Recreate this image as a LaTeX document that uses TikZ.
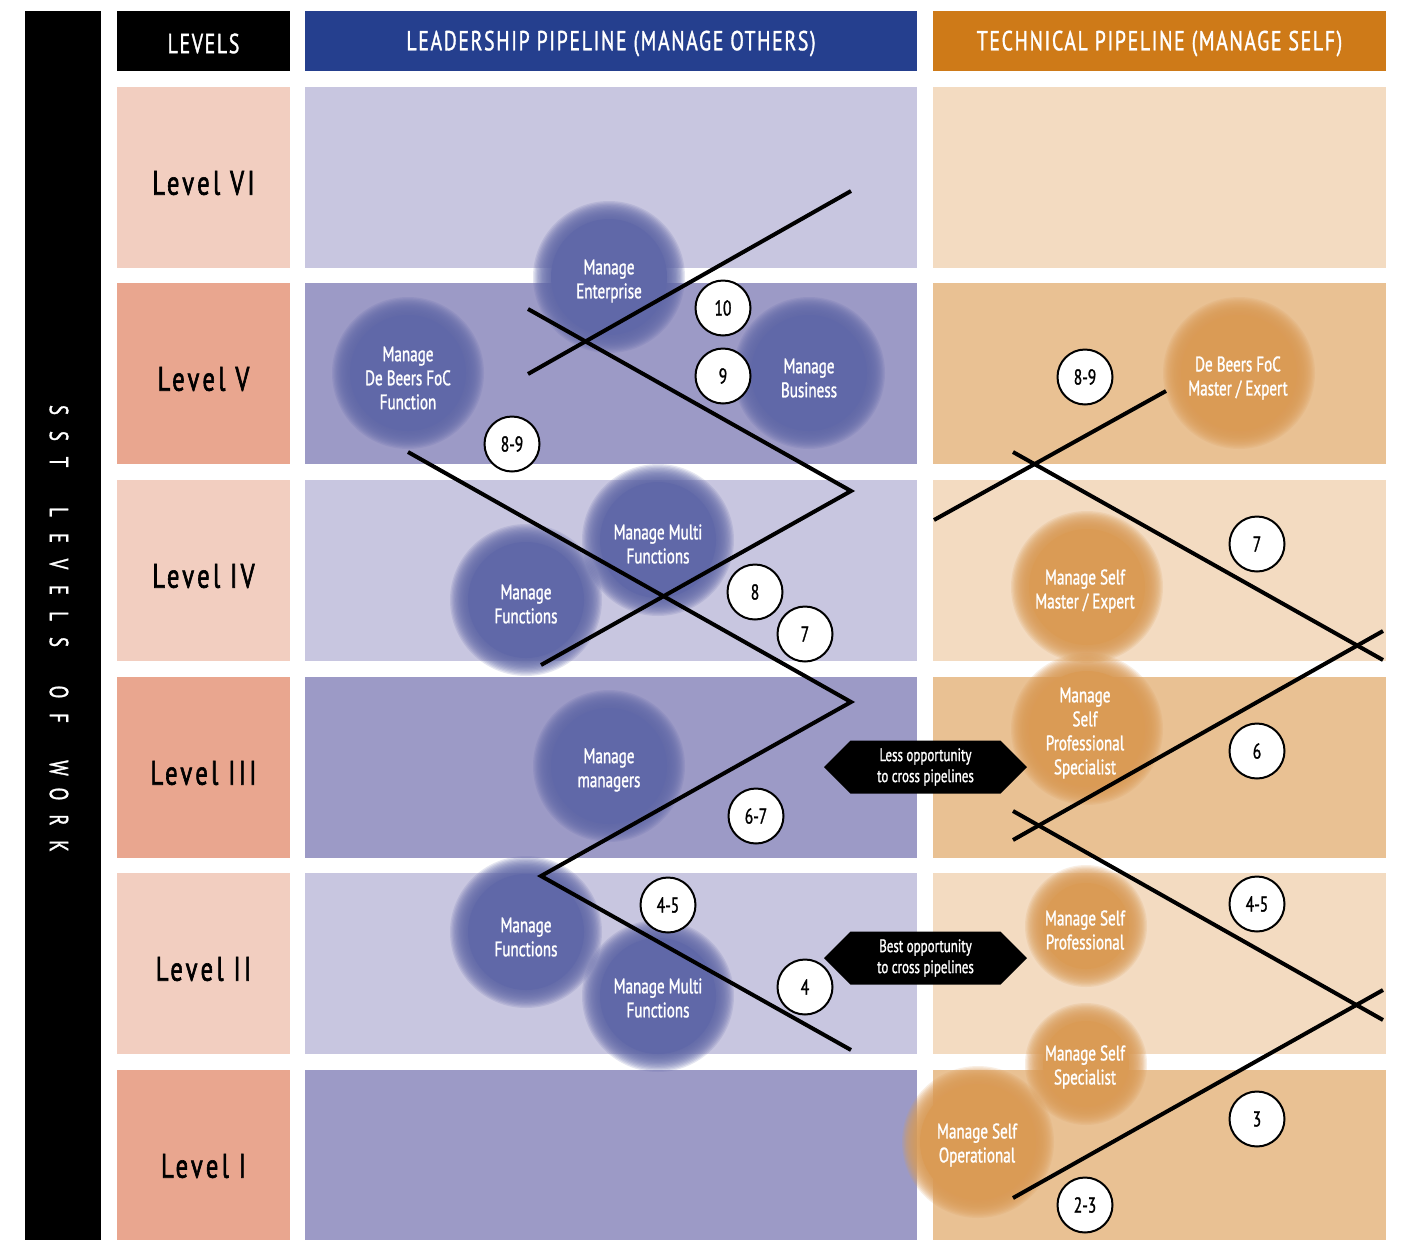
\documentclass[tikz,border=0pt]{standalone}
\usepackage{fontspec}
\setmainfont{PT Sans}[FakeStretch=0.72,FakeBold=1.2]
\usetikzlibrary{shapes.symbols}
\definecolor{hdrblue}{HTML}{253F8E}
\definecolor{hdrorange}{HTML}{CE7A18}
\definecolor{lvlA}{HTML}{F2CEC0}
\definecolor{lvlB}{HTML}{E9A68F}
\definecolor{leadA}{HTML}{C8C6E0}
\definecolor{leadB}{HTML}{9C9AC6}
\definecolor{techA}{HTML}{F3DBC1}
\definecolor{techB}{HTML}{E9C193}
\definecolor{bluec}{HTML}{6068A8}
\definecolor{orangec}{HTML}{DA9B55}
\newcommand\fzc[4]{%
  \foreach \k in {0,1,...,13}{%
    \pgfmathsetmacro\rr{#3+1-1.3*\k}%
    \fill[#4,fill opacity=0.16] (#1,#2) circle[radius=\rr];}%
  \pgfmathsetmacro\rr{#3-17}%
  \fill[#4] (#1,#2) circle[radius=\rr];}
\newcommand\lb[1]{\makebox[26pt]{#1}}
\newcommand\lsp{\hspace*{24pt}}
\begin{document}
\begin{tikzpicture}[x=1pt,y=-1pt,
  box/.style={rectangle,inner sep=0pt,outer sep=0pt},
  hdrtext/.style={text=white,inner sep=0pt,font=\fontsize{27.5}{30}\selectfont\addfontfeature{LetterSpace=6}},
  lvltext/.style={inner sep=0pt,font=\fontsize{34}{36}\selectfont\addfontfeature{LetterSpace=10,FakeBold=1.8}},
  ctext/.style={text=white,align=center,font=\fontsize{21}{24}\selectfont},
  num/.style={circle,draw=black,line width=2pt,fill=white,minimum size=55pt,inner sep=0pt,font=\fontsize{21.5}{22}\selectfont},
  hexa/.style={signal,signal to=west and east,signal pointer angle=90,fill=black,text=white,minimum width=203pt,minimum height=53pt,inner sep=2pt,align=center,font=\fontsize{18}{21}\selectfont},
  zig/.style={line width=4pt}]
\useasboundingbox (0,0) rectangle (1401,1240);
\fill[white] (0,0) rectangle (1401,1240);
% left bar
\node[box,fill=black,minimum width=76pt,minimum height=1229pt] (bar) at (63,625.5) {};
\node[text=white,rotate=-90,font=\fontsize{26}{28}\selectfont] (bartext) at (59,628)
  {\lb{S}\lb{S}\lb{T}\lsp\lb{L}\lb{E}\lb{V}\lb{E}\lb{L}\lb{S}\lsp\lb{O}\lb{F}\lsp\lb{W}\lb{O}\lb{R}\lb{K}};
% headers
\node[box,fill=black,minimum width=173pt,minimum height=60pt] (hlevels) at (203.5,41) {};
\node[box,fill=hdrblue,minimum width=612pt,minimum height=60pt] (hlead) at (611,41) {};
\node[box,fill=hdrorange,minimum width=453pt,minimum height=60pt] (htech) at (1159.5,41) {};
\node[hdrtext] (tlevels) at (203.5,43.5) {LEVELS};
\node[hdrtext] (tlead) at (611,43.5) {LEADERSHIP PIPELINE (MANAGE OTHERS)};
\node[hdrtext] (ttech) at (1159.5,43.5) {TECHNICAL PIPELINE (MANAGE SELF)};
% rows
\foreach \yc/\hh/\lab/\ca/\cb/\cc/\nm in {
  177.5/181/Level VI/lvlA/leadA/techA/six,
  373.5/181/Level V/lvlB/leadB/techB/five,
  570.5/181/Level IV/lvlA/leadA/techA/four,
  767.5/181/Level III/lvlB/leadB/techB/three,
  963.5/181/Level II/lvlA/leadA/techA/two,
  1155/170/Level I/lvlB/leadB/techB/one}{
  \node[box,fill=\ca,minimum width=173pt,minimum height=\hh pt] (lv\nm) at (203.5,\yc) {};
  \node[box,fill=\cb,minimum width=612pt,minimum height=\hh pt] (ld\nm) at (611,\yc) {};
  \node[box,fill=\cc,minimum width=453pt,minimum height=\hh pt] (tc\nm) at (1159.5,\yc) {};
}
\node[lvltext] (lt6) at (203.5,183) {Level VI};
\node[lvltext] (lt5) at (203.5,379) {Level V};
\node[lvltext] (lt4) at (203.5,576) {Level IV};
\node[lvltext] (lt3) at (203.5,773) {Level III};
\node[lvltext] (lt2) at (203.5,969) {Level II};
\node[lvltext] (lt1) at (203.5,1166) {Level I};
% fuzzy circles
\fzc{609}{277}{75}{bluec}
\fzc{408}{373}{75}{bluec}
\fzc{809}{373}{75}{bluec}
\fzc{658}{540}{75}{bluec}
\fzc{526}{600}{75}{bluec}
\fzc{609}{766}{75}{bluec}
\fzc{526}{932}{75}{bluec}
\fzc{658}{996}{75}{bluec}
\fzc{1239}{373}{75}{orangec}
\fzc{1087}{587}{75}{orangec}
\fzc{1087}{729}{75}{orangec}
\fzc{1086}{926}{60}{orangec}
\fzc{1086}{1064}{60}{orangec}
\fzc{978}{1142}{75}{orangec}
% circle texts
\node[ctext] (enterprise) at (609,281) {Manage\\Enterprise};
\node[ctext] (debeers) at (408,378) {Manage\\De Beers FoC\\Function};
\node[ctext] (business) at (809,378) {Manage\\Business};
\node[ctext] (multi) at (658,544) {Manage Multi\\Functions};
\node[ctext] (functions) at (526,604) {Manage\\Functions};
\node[ctext] (managers) at (609,770) {Manage\\managers};
\node[ctext] (functionsb) at (526,937) {Manage\\Functions};
\node[ctext] (multib) at (658,998) {Manage Multi\\Functions};
\node[ctext] (dbmaster) at (1238,378) {De Beers FoC\\Master / Expert};
\node[ctext] (selfmaster) at (1085,591) {Manage Self\\Master / Expert};
\node[ctext] (profspec) at (1085,733) {Manage\\Self\\Professional\\Specialist};
\node[ctext] (selfprof) at (1085,930) {Manage Self\\Professional};
\node[ctext] (selfspec) at (1085,1067) {Manage Self\\Specialist};
\node[ctext] (operational) at (977,1145) {Manage Self\\Operational};
% zigzag lines
\coordinate (c1) at (528,374); \coordinate (c2) at (851,191);
\coordinate (a1) at (528,309); \coordinate (a2) at (851,491); \coordinate (a3) at (541,665);
\coordinate (b1) at (408,452); \coordinate (b2) at (851,702); \coordinate (b3) at (541,876); \coordinate (b4) at (851,1050);
\coordinate (t1) at (934,520); \coordinate (t2) at (1166,391);
\coordinate (t3) at (1013,452); \coordinate (t4) at (1383,660);
\coordinate (t5) at (1013,840); \coordinate (t6) at (1383,631);
\coordinate (t7) at (1013,811); \coordinate (t8) at (1383,1020);
\coordinate (t9) at (1013,1198); \coordinate (t10) at (1383,990);
\draw[zig] (c1) -- (c2);
\draw[zig,line join=miter] (a1) -- (a2) -- (a3);
\draw[zig,line join=miter] (b1) -- (b2) -- (b3) -- (b4);
\draw[zig] (t1) -- (t2);
\draw[zig] (t3) -- (t4);
\draw[zig] (t5) -- (t6);
\draw[zig] (t7) -- (t8);
\draw[zig] (t9) -- (t10);
% number circles
\node[num] (n10) at (723,308) {10};
\node[num] (n9) at (723,376) {9};
\node[num] (n89a) at (512,444) {8-9};
\node[num] (n89b) at (1085,377) {8-9};
\node[num] (n8) at (755,592) {8};
\node[num] (n7a) at (805,634) {7};
\node[num] (n7b) at (1257,544) {7};
\node[num] (n6) at (1257,751) {6};
\node[num] (n67) at (756,816) {6-7};
\node[num] (n45a) at (668,905) {4-5};
\node[num] (n4) at (805,987) {4};
\node[num] (n45b) at (1257,904) {4-5};
\node[num] (n3) at (1257,1119) {3};
\node[num] (n23) at (1085,1205) {2-3};
% hexagon labels
\node[hexa] (less) at (925.5,767) {Less opportunity\\to cross pipelines};
\node[hexa] (best) at (925.5,958) {Best opportunity\\to cross pipelines};
\end{tikzpicture}
\end{document}
